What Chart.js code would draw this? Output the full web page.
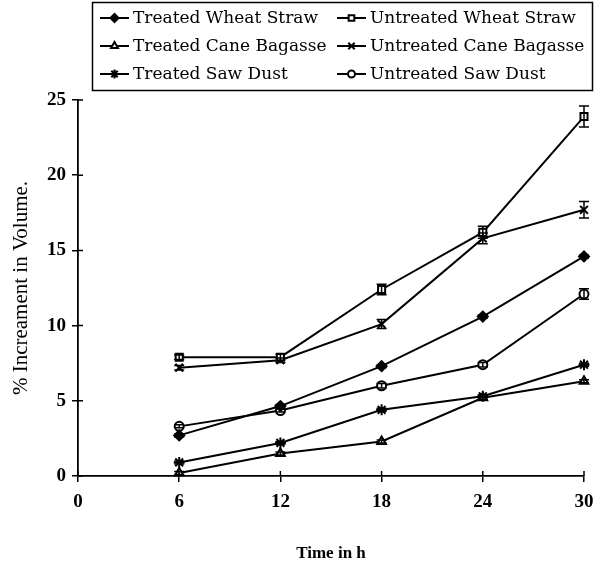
<!DOCTYPE html>
<html>
<head>
<meta charset="utf-8">
<script src="https://cdn.jsdelivr.net/npm/chart.js@4/dist/chart.umd.min.js"></script>
<style>
  html, body { margin: 0; padding: 0; background: #fff; }
  #wrap { width: 605px; height: 570px; }
</style>
</head>
<body>
<div id="wrap"><canvas id="chart" width="605" height="570"></canvas></div>
<script>
// hours of the experiment
const hours = [6, 12, 18, 24, 30];
const xTicks = [0, 6, 12, 18, 24, 30];

// % increment in volume
const treatedWheatStraw   = [2.7, 4.65, 7.3, 10.6, 14.6];
const untreatedWheatStraw = [7.9, 7.9, 12.4, 16.2, 23.9];
const treatedCaneBagasse  = [0.2, 1.5, 2.3, 5.2, 6.3];
const untreatedCaneBagasse = [7.2, 7.7, 10.1, 15.8, 17.7];
const treatedSawDust      = [0.9, 2.2, 4.4, 5.3, 7.4];
const untreatedSawDust    = [3.3, 4.35, 6.0, 7.4, 12.1];

// error bar half-widths
const errUntreatedWheatStraw = [0.15, 0.2, 0.35, 0.4, 0.7];
const errUntreatedCaneBagasse = [0.15, 0.15, 0.3, 0.35, 0.55];
const errUntreatedSawDust = [0.1, 0.1, 0.15, 0.15, 0.35];
const errSmall = [0.1, 0.1, 0.1, 0.1, 0.1];

const serif = '"Liberation Serif", "DejaVu Serif", serif';
const wideSerif = '"DejaVu Serif", "Liberation Serif", serif';

function series(label, values, errors, style, fill, radius) {
    return {
        label: label,
        data: hours.map((h, i) => ({ x: h, y: values[i] })),
        errors: errors,
        borderColor: '#000',
        borderWidth: 2,
        pointStyle: style,
        pointRadius: radius,
        pointBackgroundColor: fill,
        pointBorderColor: '#000',
        pointBorderWidth: 2,
        clip: false,
        tension: 0
    };
}

const datasets = [
    series('Treated Wheat Straw', treatedWheatStraw, errSmall, 'rectRot', '#000', 5),
    series('Untreated Wheat Straw', untreatedWheatStraw, errUntreatedWheatStraw, 'rect', '#fff', 5),
    series('Treated Cane Bagasse', treatedCaneBagasse, errSmall, 'triangle', '#fff', 5),
    series('Untreated Cane Bagasse', untreatedCaneBagasse, errUntreatedCaneBagasse, 'crossRot', '#000', 5.5),
    series('Treated Saw Dust', treatedSawDust, errSmall, 'star', '#000', 5.5),
    series('Untreated Saw Dust', untreatedSawDust, errUntreatedSawDust, 'circle', '#fff', 4.5)
];

// vertical error bars with caps, plus inner halves of the axis ticks
const errorBars = {
    id: 'errorBars',
    afterDatasetsDraw(chart) {
        const ctx = chart.ctx;
        const xs = chart.scales.x;
        const ys = chart.scales.y;
        ctx.save();
        ctx.strokeStyle = '#000';
        ctx.lineWidth = 1.5;
        chart.data.datasets.forEach((ds, di) => {
            const meta = chart.getDatasetMeta(di);
            meta.data.forEach((pt, i) => {
                const v = ds.data[i].y;
                const e = ds.errors[i];
                const top = ys.getPixelForValue(v + e);
                const bot = ys.getPixelForValue(v - e);
                ctx.beginPath();
                ctx.moveTo(pt.x, top); ctx.lineTo(pt.x, bot);
                ctx.moveTo(pt.x - 5, top); ctx.lineTo(pt.x + 5, top);
                ctx.moveTo(pt.x - 5, bot); ctx.lineTo(pt.x + 5, bot);
                ctx.stroke();
            });
        });
        ctx.beginPath();
        ys.ticks.forEach(t => {
            const py = ys.getPixelForValue(t.value);
            ctx.moveTo(xs.left, py); ctx.lineTo(xs.left + 5, py);
        });
        xs.ticks.forEach(t => {
            const px = xs.getPixelForValue(t.value);
            ctx.moveTo(px, ys.bottom); ctx.lineTo(px, ys.bottom - 5);
        });
        ctx.stroke();
        ctx.restore();
    }
};

// boxed two-column legend at the top
const boxLegend = {
    id: 'boxLegend',
    afterDraw(chart) {
        const ctx = chart.ctx;
        ctx.save();
        ctx.strokeStyle = '#000';
        ctx.lineWidth = 1.5;
        ctx.strokeRect(92.5, 2.5, 500, 88);
        ctx.font = '17px ' + wideSerif;
        ctx.textBaseline = 'middle';
        const cols = [100, 337];
        const rows = [18, 46, 74];
        chart.data.datasets.forEach((ds, i) => {
            const x = cols[i % 2];
            const y = rows[Math.floor(i / 2)];
            ctx.lineWidth = 2;
            ctx.beginPath();
            ctx.moveTo(x, y); ctx.lineTo(x + 29, y);
            ctx.stroke();
            ctx.fillStyle = ds.pointBackgroundColor;
            Chart.helpers.drawPoint(ctx, {
                pointStyle: ds.pointStyle,
                radius: ds.pointRadius - 1,
                rotation: 0,
                borderWidth: 1.8
            }, x + 14.5, y);
            ctx.fillStyle = '#000';
            ctx.fillText(ds.label, x + 33, y + 1);
        });
        ctx.restore();
    }
};

new Chart(document.getElementById('chart'), {
    type: 'line',
    data: { datasets: datasets },
    plugins: [errorBars, boxLegend],
    options: {
        responsive: false,
        animation: false,
        layout: { padding: { top: 100, right: 21, left: 0, bottom: 0 } },
        plugins: {
            legend: { display: false },
            tooltip: { enabled: false }
        },
        scales: {
            x: {
                type: 'linear',
                min: 0,
                max: 30,
                afterBuildTicks(scale) {
                    scale.ticks = xTicks.map(v => ({ value: v }));
                },
                afterFit(scale) { scale.height = 94; },
                border: { color: '#000', width: 1.8 },
                grid: { drawOnChartArea: false, color: '#000', tickLength: 6, lineWidth: 1.5 },
                ticks: {
                    color: '#000',
                    padding: 9,
                    maxRotation: 0,
                    font: { family: serif, size: 19, weight: 'bold' }
                },
                title: {
                    display: true,
                    text: 'Time in h',
                    color: '#000',
                    padding: { top: 0, bottom: 6 },
                    font: { family: serif, size: 17, weight: 'bold' }
                }
            },
            y: {
                min: 0,
                max: 25,
                afterFit(scale) { scale.width = 78; },
                border: { color: '#000', width: 1.8 },
                grid: { drawOnChartArea: false, color: '#000', tickLength: 6, lineWidth: 1.5 },
                ticks: {
                    stepSize: 5,
                    color: '#000',
                    padding: 6,
                    font: { family: serif, size: 19, weight: 'bold' }
                },
                title: {
                    display: true,
                    text: '% Increament in Volume.',
                    color: '#000',
                    padding: { top: 9, bottom: 0 },
                    font: { family: serif, size: 21 }
                }
            }
        }
    }
});
</script>
</body>
</html>
